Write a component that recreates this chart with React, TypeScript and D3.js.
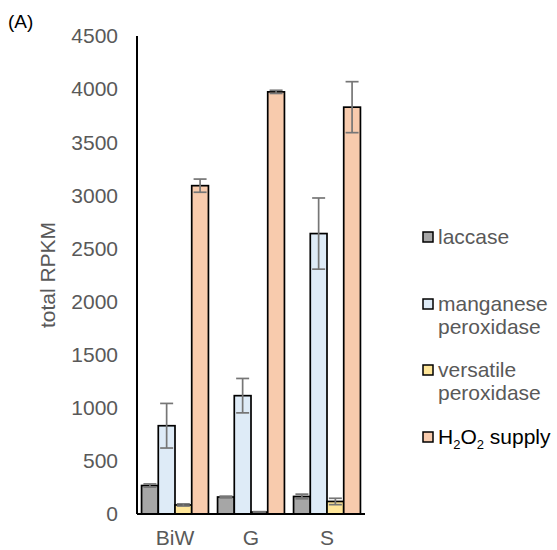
import React from "react";
import * as d3 from "d3";

const categories = ["BiW", "G", "S"];
const seriesNames = ["laccase", "manganese peroxidase", "versatile peroxidase", "H2O2 supply"];
const colors = ["#a6a6a6", "#deebf7", "#ffe699", "#f8cbad"];
// values[series][category]
const values = [
  [268, 160, 165],
  [831, 1114, 2640],
  [85, 18, 118],
  [3091, 3974, 3830],
];
const errors = [
  [15, 8, 22],
  [210, 162, 335],
  [10, 4, 30],
  [62, 15, 240],
];
const yTicks = [0, 500, 1000, 1500, 2000, 2500, 3000, 3500, 4000, 4500];

const font = "Liberation Sans, Arial, sans-serif";
const textColor = "#595959";

const App = () => {
  const left = 137, right = 365, top = 36, bottom = 514;
  const y = d3.scaleLinear().domain([0, 4500]).range([bottom, top]);
  const x0 = d3.scaleBand().domain(categories).range([left, right]).paddingInner(0.12).paddingOuter(0.06);
  const x1 = d3.scaleBand().domain(seriesNames).range([0, x0.bandwidth()]);

  const legendY = [237, 304, 370, 437];

  return (
    <svg width={557} height={550} style={{ position: "absolute", left: 0, top: 0 }}>
      <rect width={557} height={550} fill="white" />
      <text x={8} y={28} fontFamily={font} fontSize={19} fill="#000">(A)</text>
      {yTicks.map((t) => (
        <text key={t} x={118} y={y(t)} dy="0.35em" textAnchor="end" fontFamily={font} fontSize={21} fill={textColor}>
          {t}
        </text>
      ))}
      <text
        transform={`translate(48,${(top + bottom) / 2}) rotate(-90)`}
        textAnchor="middle"
        dy="0.35em"
        fontFamily={font}
        fontSize={21}
        fill={textColor}
      >
        total RPKM
      </text>
      {seriesNames.map((s, si) =>
        categories.map((c, ci) => {
          const bx = x0(c)! + x1(s)!;
          const w = x1.bandwidth();
          const v = values[si][ci];
          const e = errors[si][ci];
          const cx = bx + w / 2;
          return (
            <g key={s + c}>
              <rect x={bx} y={y(v)} width={w} height={bottom - y(v)} fill={colors[si]} stroke="#000" strokeWidth={1.7} />
              <g stroke="#767676" strokeWidth={1.7}>
                <line x1={cx} x2={cx} y1={y(v + e)} y2={y(v - e)} />
                <line x1={cx - 6.5} x2={cx + 6.5} y1={y(v + e)} y2={y(v + e)} />
                <line x1={cx - 6.5} x2={cx + 6.5} y1={y(v - e)} y2={y(v - e)} />
              </g>
            </g>
          );
        })
      )}
      <line x1={left} x2={left} y1={top} y2={bottom} stroke="#000" strokeWidth={2} />
      <line x1={left} x2={right} y1={bottom} y2={bottom} stroke="#000" strokeWidth={2} />
      {categories.map((c) => (
        <text key={c} x={x0(c)! + x0.bandwidth() / 2} y={545} textAnchor="middle" fontFamily={font} fontSize={21} fill={textColor}>
          {c}
        </text>
      ))}
      {seriesNames.map((s, i) => (
        <g key={s}>
          <rect x={423} y={legendY[i] - 5} width={10} height={10} fill={colors[i]} stroke="#000" strokeWidth={1.5} />
          {i === 3 ? (
            <text x={438} y={legendY[i]} dy="0.35em" fontFamily={font} fontSize={21} fill="#000">
              H<tspan fontSize={13} dy={5}>2</tspan>
              <tspan dy={-5}>O</tspan>
              <tspan fontSize={13} dy={5}>2</tspan>
              <tspan dy={-5}> supply</tspan>
            </text>
          ) : (
            <text x={438} y={legendY[i]} fontFamily={font} fontSize={21} fill={textColor}>
              {s.split(" ").map((part, k) => (
                <tspan key={k} x={438} dy={k === 0 ? "0.35em" : 23}>
                  {part}
                </tspan>
              ))}
            </text>
          )}
        </g>
      ))}
    </svg>
  );
};

export default App;
